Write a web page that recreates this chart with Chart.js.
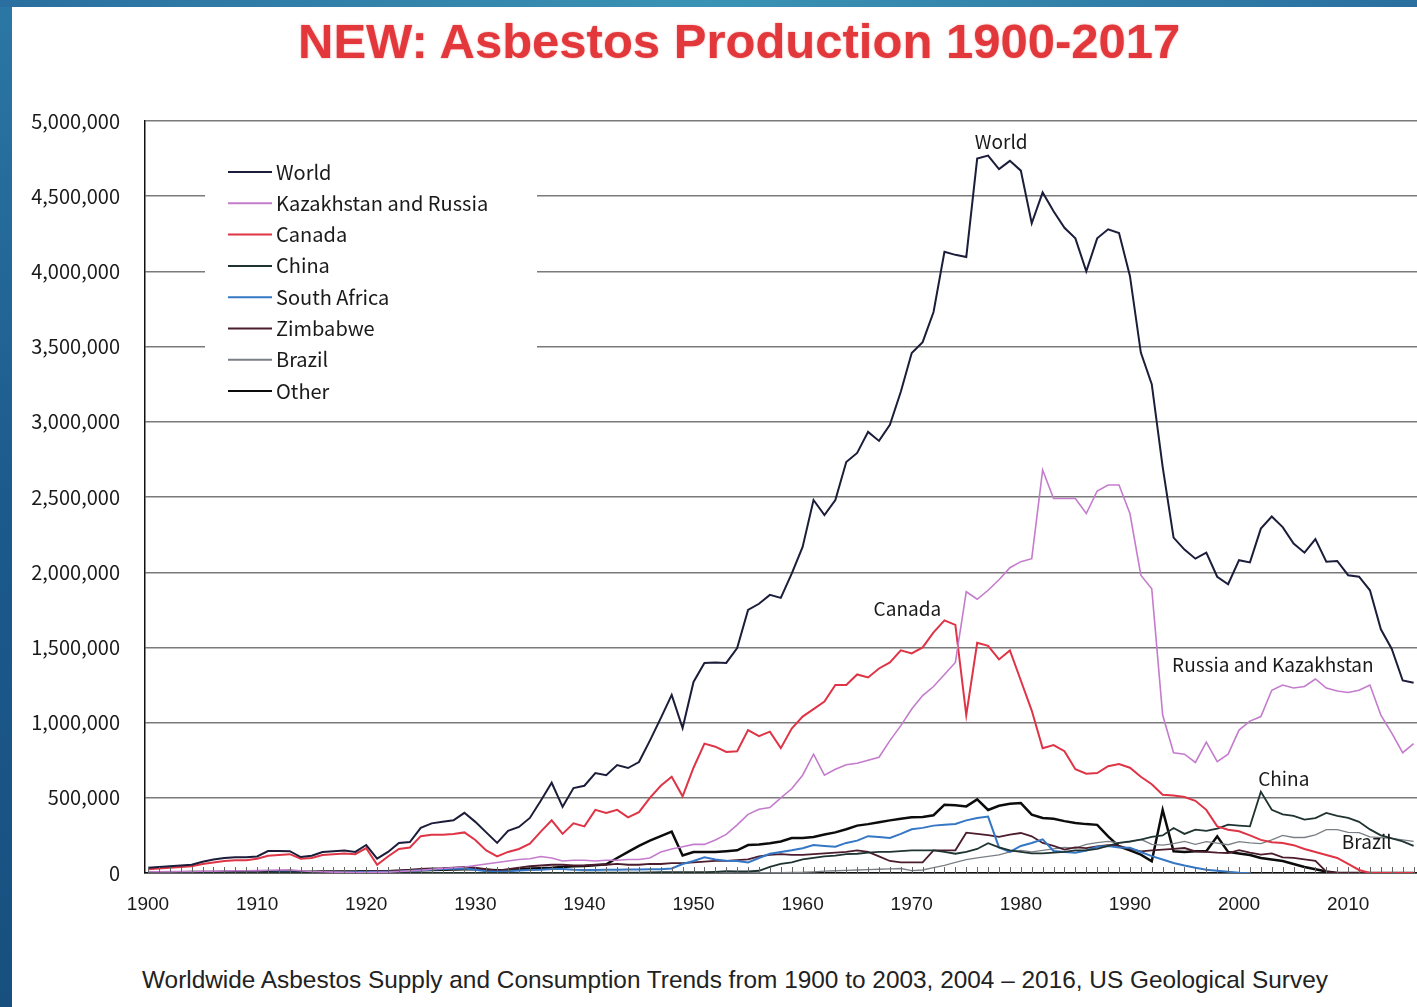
<!DOCTYPE html>
<html>
<head>
<meta charset="utf-8">
<title>Asbestos Production 1900-2017</title>
<script src="https://cdn.jsdelivr.net/npm/chart.js@4.4.1/dist/chart.umd.min.js"></script>
<style>
  html, body { margin: 0; padding: 0; background: #fff; overflow: hidden; }
  body { width: 1417px; height: 1007px; position: relative; }
  .stripLeft { position: absolute; left: 0; top: 0; width: 12px; height: 1007px;
    background: linear-gradient(180deg, #2b77a6, #1c5a8c 50%, #17507f); }
  .stripTop { position: absolute; left: 0; top: 0; width: 1417px; height: 7px;
    background: linear-gradient(90deg, #2a6f9f, #3a93b4 50%, #2a6f9f); }
  #titulo { position: absolute; left: 298px; top: 13px; white-space: nowrap;
    font-family: 'Liberation Sans', Arial, sans-serif; font-weight: bold; font-size: 49px;
    color: #e2383c; text-shadow: 0 0 2px rgba(226, 56, 60, 0.5); }
  #fonte { position: absolute; left: 142px; top: 966px; white-space: nowrap;
    font-family: 'Liberation Sans', Arial, sans-serif; font-size: 24.4px; color: #222; }
  #box { position: absolute; left: 0; top: 84px; width: 1440px; height: 856px; }
</style>
</head>
<body>
<div class="stripLeft"></div>
<div class="stripTop"></div>
<div id="titulo">NEW: Asbestos Production 1900-2017</div>
<div id="box"><canvas id="graficoAmianto"></canvas></div>
<div id="fonte">Worldwide Asbestos Supply and Consumption Trends from 1900 to 2003, 2004 – 2016, US Geological Survey</div>

<script>
// anos 1900..2016, valores em milhares de toneladas
const anos = Array.from({ length: 117 }, (_, i) => 1900 + i);
const decadas = [1900, 1910, 1920, 1930, 1940, 1950, 1960, 1970, 1980, 1990, 2000, 2010];
const escalaY = [0, 500000, 1000000, 1500000, 2000000, 2500000, 3000000, 3500000, 4000000, 4500000, 5000000];

const world = [
  35, 40, 45, 50, 55, 75, 90, 100, 105, 105,
  110, 146, 146, 145, 106, 115, 140, 145, 150, 140,
  186, 95, 140, 200, 206, 300, 330, 340, 350, 400,
  340, 270, 200, 280, 306, 366, 480, 600, 440, 565,
  580, 665, 650, 718, 698, 738, 880, 1030, 1184, 964,
  1270, 1397, 1400, 1397, 1496, 1749, 1790, 1849, 1829, 1990,
  2168, 2480, 2380, 2480, 2733, 2793, 2933, 2873, 2980, 3200,
  3458, 3530, 3730, 4130, 4110, 4096, 4750, 4770, 4680, 4735,
  4670, 4320, 4525, 4400, 4290, 4220, 4000, 4220, 4280, 4255,
  3970, 3460, 3250, 2700, 2230, 2150, 2090, 2130, 1970, 1920,
  2080, 2065, 2290, 2370, 2300, 2190, 2130, 2220, 2070, 2075,
  1980, 1970, 1880, 1620, 1490, 1280, 1265
];
const kazRussia = [
  8, 8, 9, 10, 10, 12, 12, 14, 15, 15,
  16, 18, 20, 22, 15, 10, 8, 6, 4, 3,
  3, 4, 6, 10, 14, 18, 25, 30, 35, 40,
  50, 60, 70, 80, 90, 95, 110, 100, 80, 85,
  85, 80, 85, 85, 90, 90, 100, 140, 160, 175,
  190, 190, 220, 257, 320, 390, 424, 435, 500, 560,
  650, 790, 650, 690, 720, 730, 750, 770, 880, 980,
  1090, 1180, 1240, 1320, 1400, 1870, 1820, 1880, 1950, 2030,
  2070, 2090, 2680, 2490, 2490, 2490, 2390, 2540, 2580, 2580,
  2390, 1980, 1890, 1050, 800, 790, 735, 870, 740, 790,
  950, 1010, 1040, 1215, 1250, 1230, 1240, 1290, 1230, 1210,
  1200, 1215, 1250, 1050, 930, 800, 860
];
const canada = [
  25, 30, 35, 40, 45, 60, 70, 80, 85, 85,
  95, 115, 120, 125, 95, 100, 120, 125, 130, 125,
  165, 55, 110, 160, 170, 245, 255, 255, 260, 270,
  220, 150, 110, 140, 160, 195, 275, 350, 260, 330,
  310, 420, 400, 420, 370, 405, 500, 580, 640, 510,
  700, 860, 840, 805, 810, 950, 910, 940, 830, 960,
  1040, 1090, 1140, 1250, 1250, 1320, 1300, 1360, 1400, 1480,
  1460, 1500, 1600, 1680, 1650, 1050, 1530, 1510, 1420, 1480,
  1280, 1080, 830, 850, 810, 690, 660, 665, 710, 725,
  700, 640, 590, 520, 515, 505, 480, 420, 310, 288,
  277, 250, 220, 205, 200, 185, 160, 140, 120, 100,
  60, 20, 0, 0, 0, 0, 0
];
const china = [
  0, 0, 0, 0, 0, 0, 0, 0, 0, 0,
  0, 0, 0, 0, 0, 0, 0, 0, 0, 0,
  0, 0, 0, 0, 0, 0, 0, 0, 0, 0,
  0, 0, 0, 0, 0, 0, 0, 0, 0, 0,
  2, 2, 3, 3, 3, 3, 4, 5, 5, 5,
  5, 5, 8, 12, 10, 10, 15, 40, 60, 70,
  90, 100, 110, 116, 125, 128, 135, 140, 140, 145,
  150, 151, 150, 140, 128, 140, 160, 198, 170, 150,
  140, 130, 130, 135, 140, 150, 150, 160, 180, 200,
  210, 222, 240, 250, 299, 260, 288, 280, 295, 321,
  315, 310, 540, 420, 390, 380, 355, 365, 400, 380,
  366, 340, 290, 250, 230, 210, 180
];
const southAfrica = [
  1, 1, 1, 1, 1, 1, 1, 1, 1, 1,
  2, 2, 3, 3, 2, 2, 3, 4, 5, 5,
  8, 6, 8, 10, 14, 18, 22, 26, 28, 30,
  22, 12, 8, 12, 16, 20, 22, 26, 26, 22,
  20, 20, 22, 22, 24, 24, 25, 25, 30, 60,
  80, 105, 90, 82, 80, 70, 100, 128, 140, 151,
  165, 186, 180, 175, 200, 215, 245, 240, 233, 260,
  291, 300, 315, 320, 326, 350, 365, 375, 170, 140,
  180, 200, 224, 146, 140, 135, 150, 175, 179, 170,
  168, 140, 112, 90, 67, 50, 35, 22, 15, 8,
  2, 0, null, null, null, null, null, null, null, null,
  null, null, null, null, null, null, null
];
const zimbabwe = [
  0, 0, 0, 0, 0, 0, 0, 0, 0, 0,
  0, 0, 0, 1, 2, 3, 4, 5, 6, 7,
  10, 12, 14, 18, 22, 28, 30, 32, 36, 40,
  35, 25, 15, 25, 35, 45, 50, 55, 55, 50,
  50, 55, 55, 60, 55, 55, 60, 60, 65, 65,
  70, 75, 80, 80, 85, 90, 110, 120, 125, 120,
  120, 125, 130, 135, 140, 150, 140, 110, 80, 70,
  70, 70, 150, 151, 151, 268, 260, 252, 240, 255,
  266, 244, 200, 180, 155, 170, 165, 177, 185, 180,
  160, 144, 150, 155, 160, 166, 144, 140, 135, 133,
  152, 136, 122, 130, 104, 100, 90, 80, 9, 0,
  0, 0, 0, 0, 0, 0, 0
];
const brazil = [
  0, 0, 0, 0, 0, 0, 0, 0, 0, 0,
  0, 0, 0, 0, 0, 0, 0, 0, 0, 0,
  0, 0, 0, 0, 0, 0, 0, 0, 0, 0,
  0, 0, 0, 0, 0, 0, 0, 0, 0, 0,
  1, 1, 1, 1, 1, 1, 1, 1, 1, 1,
  1, 1, 1, 2, 2, 2, 2, 3, 3, 4,
  5, 8, 12, 15, 18, 20, 22, 25, 28, 30,
  16, 20, 35, 50, 70, 89, 101, 110, 120, 140,
  150, 140, 150, 160, 170, 165, 190, 202, 210, 200,
  205, 224, 190, 185, 195, 210, 190, 208, 198, 188,
  209, 200, 195, 220, 250, 236, 236, 254, 288, 288,
  270, 269, 240, 235, 230, 220, 210
];
const other = [
  5, 5, 5, 5, 6, 6, 6, 7, 7, 7,
  8, 10, 10, 10, 8, 8, 10, 10, 10, 10,
  12, 10, 12, 14, 16, 18, 20, 22, 24, 25,
  25, 22, 18, 20, 25, 30, 32, 35, 40, 45,
  47, 52, 58, 100, 140, 180, 215, 245, 275, 116,
  140, 140, 140, 145, 151, 186, 190, 198, 210, 233,
  233, 240, 256, 270, 291, 315, 325, 338, 350, 361,
  370, 373, 384, 454, 450, 443, 489, 419, 447, 460,
  465, 388, 366, 360, 345, 333, 325, 320, 244, 177,
  150, 122, 78, 420, 144, 140, 144, 144, 244, 140,
  130, 120, 100, 90, 80, 60, 40, 25, 10, 0,
  0, 0, 0, 0, 0, 0, 0
];

// rótulos escritos sobre o gráfico: [texto, ano, valor]
const rotulos = [
  ['World', 1978.2, 4860000],
  ['Canada', 1969.6, 1760000],
  ['Russia and Kazakhstan', 2003.1, 1385000],
  ['China', 2004.1, 625000],
  ['Brazil', 2011.7, 205000]
];

const fonteTexto = "'Noto Sans CJK JP', 'DejaVu Sans', sans-serif";

function serie(label, valores, cor, largura) {
  return {
    label: label,
    data: anos.map((a, i) => ({ x: a, y: valores[i] === null ? null : valores[i] * 1000 })),
    borderColor: cor,
    backgroundColor: cor,
    borderWidth: largura,
    pointRadius: 0,
    tension: 0,
    fill: false
  };
}

// legenda desenhada dentro da área do gráfico
const legendaInterna = {
  id: 'legendaInterna',
  afterDatasetsDraw(chart) {
    const ctx = chart.ctx;
    const area = chart.chartArea;
    const x0 = area.left + 60;
    const y0 = area.top + 29;
    ctx.save();
    ctx.fillStyle = '#ffffff';
    ctx.fillRect(x0, y0, 332, 256);
    ctx.font = '20px ' + fonteTexto;
    ctx.textBaseline = 'middle';
    chart.data.datasets.forEach(function (ds, i) {
      const y = area.top + 51 + i * 31.3;
      ctx.strokeStyle = ds.borderColor;
      ctx.lineWidth = 2;
      ctx.beginPath();
      ctx.moveTo(x0 + 23, y);
      ctx.lineTo(x0 + 67, y);
      ctx.stroke();
      ctx.fillStyle = '#1a1a1a';
      ctx.fillText(ds.label, x0 + 71, y);
    });

    // marcas anuais no eixo x
    const sx = chart.scales.x;
    ctx.strokeStyle = '#666';
    ctx.lineWidth = 1;
    anos.forEach(function (a) {
      const px = Math.round(sx.getPixelForValue(a)) + 0.5;
      ctx.beginPath();
      ctx.moveTo(px, area.bottom);
      ctx.lineTo(px, area.bottom - 6);
      ctx.stroke();
    });

    // rótulos das séries
    const sy = chart.scales.y;
    ctx.font = '19px ' + fonteTexto;
    ctx.textAlign = 'center';
    ctx.fillStyle = '#1a1a1a';
    rotulos.forEach(function (r) {
      ctx.fillText(r[0], sx.getPixelForValue(r[1]), sy.getPixelForValue(r[2]));
    });
    ctx.restore();
  }
};

document.addEventListener('DOMContentLoaded', function () {
  const ctx = document.getElementById('graficoAmianto').getContext('2d');
  new Chart(ctx, {
    type: 'line',
    data: {
      datasets: [
        serie('World', world, '#1b1d3a', 2),
        serie('Kazakhstan and Russia', kazRussia, '#c47ccc', 1.6),
        serie('Canada', canada, '#de3446', 2),
        serie('China', china, '#1f3330', 1.8),
        serie('South Africa', southAfrica, '#3577c4', 2),
        serie('Zimbabwe', zimbabwe, '#4a1c2c', 1.8),
        serie('Brazil', brazil, '#7a7f86', 1.3),
        serie('Other', other, '#0c0c0c', 2.5)
      ]
    },
    options: {
      responsive: true,
      maintainAspectRatio: false,
      animation: false,
      layout: { padding: { top: 5, right: 0, bottom: 0, left: 0 } },
      scales: {
        x: {
          type: 'linear',
          min: 1899.725,
          max: 2018.42,
          afterBuildTicks: function (scale) {
            scale.ticks = decadas.map(v => ({ value: v }));
          },
          afterFit: function (scale) { scale.height = 67; },
          grid: { display: false, drawTicks: false },
          border: { color: '#111', width: 1.5 },
          ticks: {
            autoSkip: false,
            maxRotation: 0,
            padding: 20,
            color: '#1a1a1a',
            font: { family: "'Liberation Sans', Arial, sans-serif", size: 19 },
            callback: v => String(v)
          }
        },
        y: {
          min: 0,
          max: 5000000,
          afterBuildTicks: function (scale) {
            scale.ticks = escalaY.map(v => ({ value: v }));
          },
          afterFit: function (scale) { scale.width = 145; },
          grid: { color: '#7a7a7a', lineWidth: 1.4, drawTicks: false },
          border: { color: '#111', width: 1.5 },
          ticks: {
            padding: 25,
            color: '#1a1a1a',
            font: { family: fonteTexto, size: 20 },
            callback: v => v.toLocaleString('en-US')
          }
        }
      },
      plugins: {
        legend: { display: false },
        tooltip: { enabled: false }
      }
    },
    plugins: [legendaInterna]
  });
});
</script>
</body>
</html>
